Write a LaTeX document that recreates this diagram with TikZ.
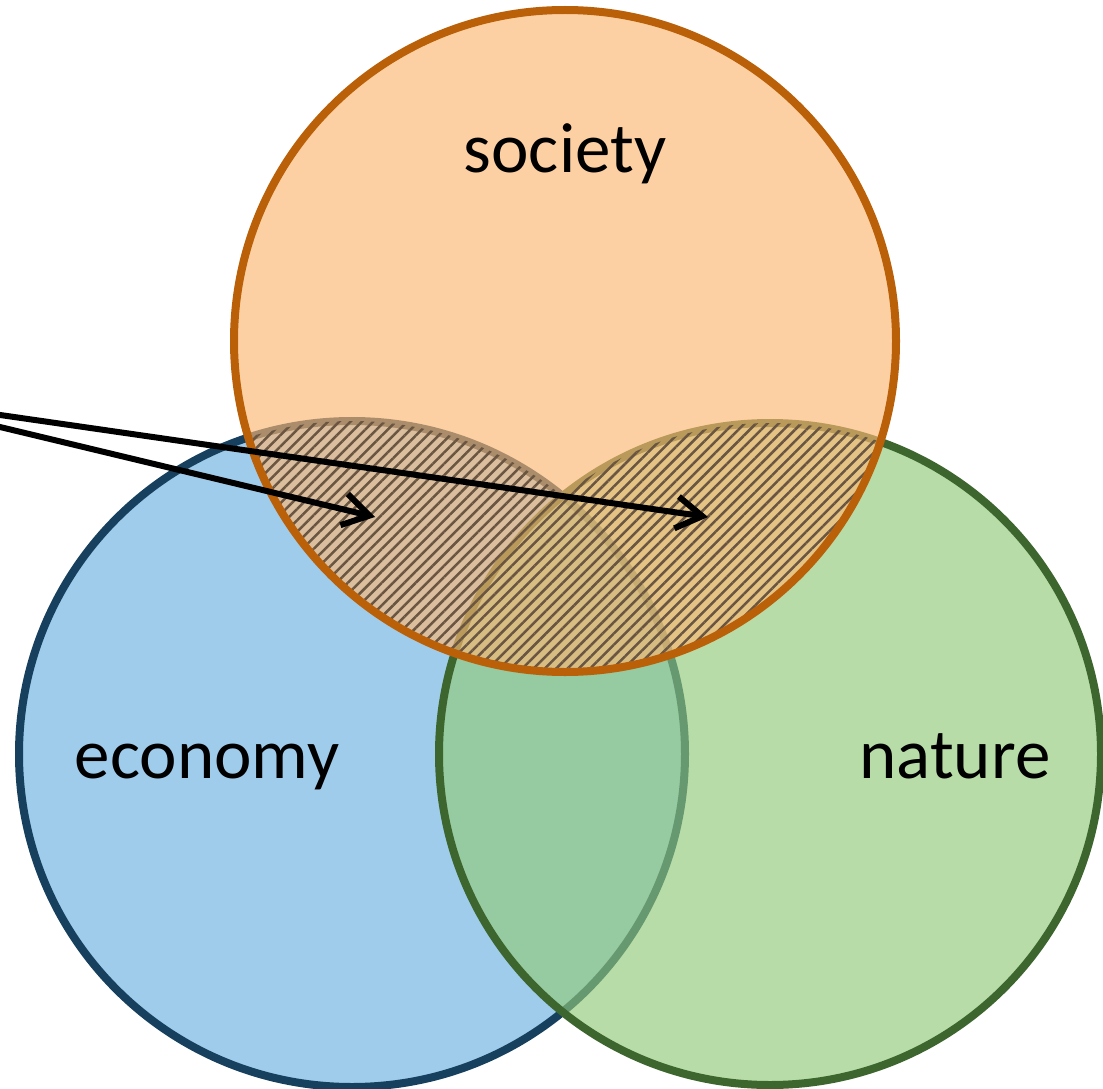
\documentclass[tikz,border=0pt]{standalone}
\usepackage{fontspec}
\setmainfont{Carlito}
\usetikzlibrary{arrows.meta,patterns.meta}
\definecolor{econfill}{RGB}{160,204,236}
\definecolor{econline}{RGB}{22,64,94}
\definecolor{natfill}{RGB}{146,201,121}
\definecolor{natline}{RGB}{61,102,46}
\definecolor{socfill}{RGB}{252,183,115}
\definecolor{socline}{RGB}{186,96,8}
\definecolor{hatchcol}{RGB}{105,85,65}
\tikzset{
  ring/.style={line width=8pt},
  txt/.style={font=\fontsize{71}{82}\selectfont, text=black, inner sep=0pt, anchor=base},
  arrowline/.style={line width=6pt, black, -{Straight Barb[length=26pt,width=32pt]}},
  hatchfill/.style={pattern={Lines[angle=45,distance=8pt,line width=2.5pt]}, pattern color=hatchcol}
}
\begin{document}
\begin{tikzpicture}[x=1pt,y=-1pt]
\useasboundingbox (0,0) rectangle (1103,1089);
\clip (0,0) rectangle (1103,1089);
\coordinate (E) at (352,754);
\coordinate (N) at (770,754);
\coordinate (S) at (565,341);
% economy
\fill[econfill] (E) circle (333pt);
\draw[ring, econline] (E) circle (333pt);
% nature
\fill[natfill, fill opacity=0.65] (N) circle (331pt);
\draw[ring, natline] (N) circle (331pt);
% society
\fill[socfill, fill opacity=0.65] (S) circle (331pt);
% hatching in overlaps with society
\begin{scope}
  \clip (S) circle (331pt);
  \fill[hatchfill, fill opacity=0.24, even odd rule] (E) circle (333pt) (N) circle (331pt);
  \begin{scope}
    \clip (E) circle (333pt);
    \fill[hatchfill, fill opacity=0.12] (N) circle (331pt);
  \end{scope}
\end{scope}
\draw[ring, socline] (S) circle (331pt);
% labels
\node[txt] (society) at (565,172) {society};
\node[txt] (economy) at (207,778) {economy};
\node[txt] (nature) at (955,778) {nature};
% arrows
\coordinate (src1) at (-40,417.4);
\coordinate (tip1) at (375,517);
\coordinate (src2) at (-40,409.2);
\coordinate (tip2) at (708,517);
\draw[arrowline] (src1) -- (tip1);
\draw[arrowline] (src2) -- (tip2);
\end{tikzpicture}
\end{document}
